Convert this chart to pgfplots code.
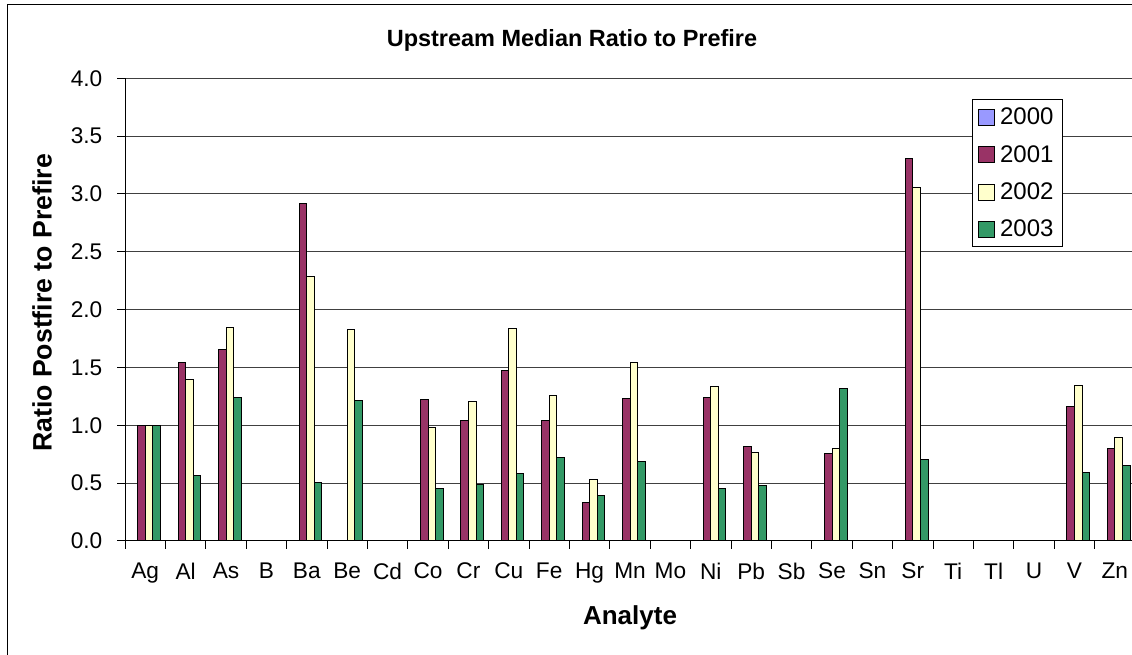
\documentclass[border=0pt]{standalone}
\usepackage{fontspec}
\setmainfont{Liberation Sans}
\usepackage{pgfplots}
\usepackage{pgfplotstable}
\pgfplotsset{compat=1.18}

\definecolor{c2000}{HTML}{9999FF}
\definecolor{c2001}{HTML}{993366}
\definecolor{c2002}{HTML}{FFFFCC}
\definecolor{c2003}{HTML}{339966}

% median ratio postfire to prefire, one row per analyte (nan = no bar)
\pgfplotstableread{
idx y2001 y2002 y2003
0   1.000 1.000 1.000
1   1.540 1.400 0.563
2   1.655 1.845 1.242
3   nan   nan   nan
4   2.920 2.290 0.503
5   nan   1.828 1.216
6   nan   nan   nan
7   1.220 0.982 0.457
8   1.046 1.210 0.491
9   1.473 1.840 0.583
10  1.043 1.262 0.725
11  0.335 0.531 0.396
12  1.236 1.545 0.687
13  nan   nan   nan
14  1.242 1.337 0.451
15  0.815 0.765 0.483
16  nan   nan   nan
17  0.754 0.797 1.315
18  nan   nan   nan
19  3.310 3.053 0.705
20  nan   nan   nan
21  nan   nan   nan
22  nan   nan   nan
23  1.160 1.346 0.592
24  0.797 0.893 0.650
}\ratios

\begin{document}
\begin{tikzpicture}[x=0.75pt,y=0.75pt]
\useasboundingbox (0,0) rectangle (1132,655);
\draw[line width=0.75pt] (7,-5) -- (7,650) -- (1140,650);

\begin{axis}[
  at={(93.75pt,85.5pt)}, anchor=south west,
  scale only axis, width=757.5pt, height=347pt,
  xmin=-0.5, xmax=24.5, ymin=0, ymax=4,
  axis x line*=bottom, axis y line*=left,
  axis line style={line width=0.75pt, black},
  ybar, bar width=0.188,
  ytick={0,0.5,...,4},
  yticklabel style={xshift=-7.5pt, /pgf/number format/.cd, fixed, fixed zerofill, precision=1},
  /pgf/number format/assume math mode=true,
  ymajorgrids, grid style={black!75, line width=0.75pt},
  xtick={-0.5,0.5,...,24.5}, xticklabels={},
  extra x ticks={0,1,...,24},
  extra x tick labels={Ag,Al,As,B,Ba,Be,Cd,Co,Cr,Cu,Fe,Hg,Mn,Mo,Ni,Pb,Sb,Se,Sn,Sr,Ti,Tl,U,V,Zn},
  extra x tick style={tick style={draw=none}, xticklabel style={yshift=-6.75pt}},
  tick align=outside, major tick length=6pt,
  tick style={black, line width=0.75pt},
  tick label style={font=\fontsize{17}{20}\selectfont},
  legend cell align=left,
  legend image code/.code={\draw[#1,line width=0.75pt] (0pt,-6pt) rectangle (12pt,6pt);},
  legend style={at={(rel axis cs:0.8386,0.9546)}, anchor=north west,
    draw=black, line width=0.75pt, fill=white,
    font=\fontsize{18}{20}\selectfont, row sep=10pt,
    inner xsep=4.5pt, inner ysep=4pt},
]
\addlegendimage{fill=c2000, draw=black}
\addlegendentry{\hspace{1.5pt}2000\hspace{9pt}}
\addplot[fill=c2001, draw=black, line width=0.75pt, bar shift=-0.094]
  table[x=idx, y=y2001] {\ratios};
\addlegendentry{\hspace{1.5pt}2001\hspace{9pt}}
\addplot[fill=c2002, draw=black, line width=0.75pt, bar shift=0.094]
  table[x=idx, y=y2002] {\ratios};
\addlegendentry{\hspace{1.5pt}2002\hspace{9pt}}
\addplot[fill=c2003, draw=black, line width=0.75pt, bar shift=0.282]
  table[x=idx, y=y2003] {\ratios};
\addlegendentry{\hspace{1.5pt}2003\hspace{9pt}}
\end{axis}

\node[font=\fontsize{17.6}{20}\selectfont\bfseries] at (572,615) {Upstream Median Ratio to Prefire};
\node[font=\fontsize{19.5}{22}\selectfont\bfseries] at (630,37) {Analyte};
\node[font=\fontsize{20}{22}\selectfont\bfseries, rotate=90] at (42,352) {Ratio Postfire to Prefire};
\end{tikzpicture}
\end{document}
